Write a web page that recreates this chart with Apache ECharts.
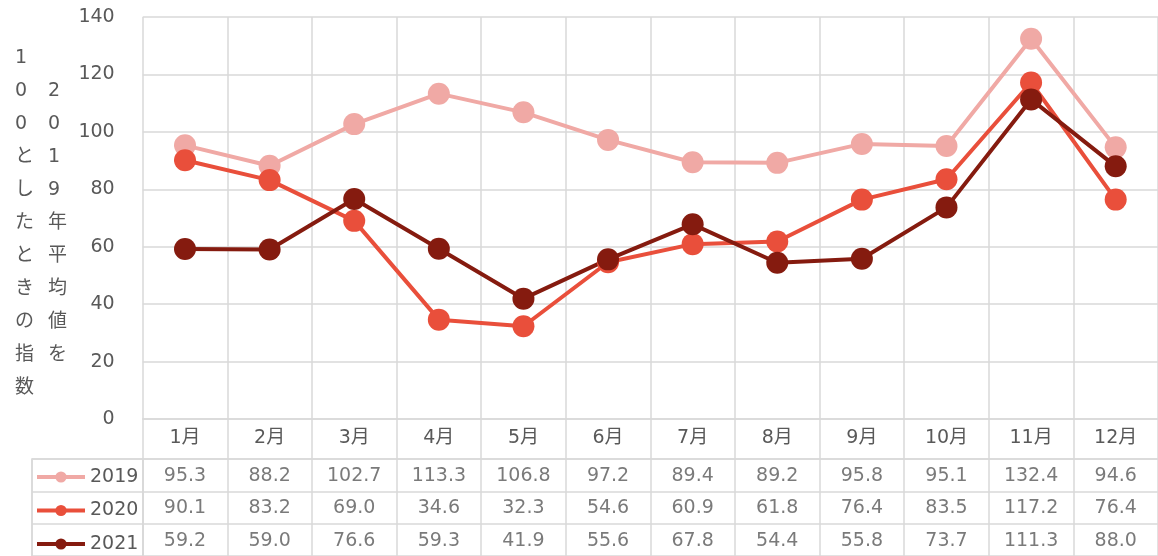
<!DOCTYPE html>
<html>
<head>
    <meta charset="UTF-8">
    <title>2019年平均値を100とした指数</title>
    <script src="https://cdn.jsdelivr.net/npm/echarts@6/dist/echarts.min.js"></script>
    <style>
        html, body { margin: 0; padding: 0; background: #fff; }
    </style>
</head>
<body>
<div id="chart" style="width: 1158px;height:556px;"></div>
</body>
<script type="text/javascript">
    var months = ['1月', '2月', '3月', '4月', '5月', '6月', '7月', '8月', '9月', '10月', '11月', '12月'];
    var years = ['2019', '2020', '2021'];
    var v2019 = [95.3, 88.2, 102.7, 113.3, 106.8, 97.2, 89.4, 89.2, 95.8, 95.1, 132.4, 94.6];
    var v2020 = [90.1, 83.2, 69.0, 34.6, 32.3, 54.6, 60.9, 61.8, 76.4, 83.5, 117.2, 76.4];
    var v2021 = [59.2, 59.0, 76.6, 59.3, 41.9, 55.6, 67.8, 54.4, 55.8, 73.7, 111.3, 88.0];
    var colors = ['#F0A9A5', '#E94F3B', '#851B0F'];
    var yMin = 0, yMax = 140, yStep = 20;

    var font = 'DejaVu Sans, Noto Sans CJK JP, sans-serif';
    var textColor = '#595959';
    var gridColor = '#d9d9d9';

    // 表のセル (月, 年, 値)
    var values = [v2019, v2020, v2021];
    var tableData = [];
    for (let j = 0; j < years.length; j++) {
        for (let i = 0; i < months.length; i++) {
            tableData.push([i, j, values[j][i]]);
        }
    }

    var lineSeries = [];
    var legends = [];
    for (let j = 0; j < years.length; j++) {
        lineSeries.push({
            name: years[j],
            type: 'line',
            xAxisIndex: 0,
            yAxisIndex: 0,
            data: values[j],
            symbol: 'circle',
            symbolSize: 22,
            color: colors[j],
            itemStyle: {color: colors[j]},
            lineStyle: {width: 4, color: colors[j]}
        });
        // 表の左の列に凡例を1行ずつ置く
        legends.push({
            left: 35,
            top: 467 + j * 33.5,
            itemWidth: 48,
            itemHeight: 14,
            itemGap: 0,
            padding: 0,
            selectedMode: false,
            data: [years[j]],
            lineStyle: {width: 4},
            textStyle: {fontSize: 19, color: textColor, lineHeight: 20, fontFamily: font}
        });
    }

    var option = {
        animation: false,
        textStyle: {fontFamily: font},
        legend: legends,
        graphic: [
            {
                type: 'text', left: 15, top: 42,
                style: {
                    text: '1\n0\n0\nと\nし\nた\nと\nき\nの\n指\n数',
                    font: '19px ' + font, fill: textColor, lineHeight: 33, align: 'center'
                }
            },
            {
                type: 'text', left: 48, top: 75,
                style: {
                    text: '2\n0\n1\n9\n年\n平\n均\n値\nを',
                    font: '19px ' + font, fill: textColor, lineHeight: 33, align: 'center'
                }
            }
        ],
        grid: [
            {left: 142.7, top: 17, width: 1018, height: 402},
            {left: 142.7, top: 459, width: 1018, height: 100.5},
            {left: 32, top: 459, width: 110.7, height: 100.5}
        ],
        xAxis: [
            {
                type: 'category',
                gridIndex: 0,
                data: months,
                axisLine: {show: true, lineStyle: {color: gridColor, width: 1.5}},
                axisTick: {show: true, interval: 0, length: 40, lineStyle: {color: gridColor, width: 1.5}},
                axisLabel: {interval: 0, margin: 10, fontSize: 19, color: textColor, fontFamily: font},
                splitLine: {show: true, interval: 0, lineStyle: {color: gridColor, width: 1.5}}
            },
            {
                type: 'category',
                gridIndex: 1,
                data: months,
                position: 'top',
                axisLine: {show: true, lineStyle: {color: gridColor, width: 1.5}},
                axisTick: {show: false},
                axisLabel: {show: false},
                splitLine: {show: true, interval: 0, lineStyle: {color: gridColor, width: 1.5}}
            },
            {
                type: 'category',
                gridIndex: 2,
                data: [''],
                position: 'top',
                axisLine: {show: true, lineStyle: {color: gridColor, width: 1.5}},
                axisTick: {show: false},
                axisLabel: {show: false},
                splitLine: {show: true, interval: 0, lineStyle: {color: gridColor, width: 1.5}}
            }
        ],
        yAxis: [
            {
                type: 'value',
                gridIndex: 0,
                min: yMin,
                max: yMax,
                interval: yStep,
                axisLine: {show: false},
                axisTick: {show: false},
                axisLabel: {margin: 28, fontSize: 19, color: textColor, fontFamily: font},
                splitLine: {show: true, lineStyle: {color: gridColor, width: 1.5}}
            },
            {
                type: 'category',
                gridIndex: 1,
                data: years,
                inverse: true,
                axisLine: {show: true, lineStyle: {color: gridColor, width: 1.5}},
                axisTick: {show: false},
                axisLabel: {show: false},
                splitLine: {show: true, interval: 0, lineStyle: {color: gridColor, width: 1.5}}
            },
            {
                type: 'category',
                gridIndex: 2,
                data: years,
                inverse: true,
                axisLine: {show: true, lineStyle: {color: gridColor, width: 1.5}},
                axisTick: {show: false},
                axisLabel: {show: false},
                splitLine: {show: true, interval: 0, lineStyle: {color: gridColor, width: 1.5}}
            }
        ],
        series: lineSeries.concat([
            {
                name: 'table',
                type: 'scatter',
                xAxisIndex: 1,
                yAxisIndex: 1,
                silent: true,
                symbolSize: 1,
                itemStyle: {color: 'rgba(0,0,0,0)'},
                label: {
                    show: true,
                    position: 'inside',
                    offset: [0, 1],
                    fontSize: 19,
                    color: textColor,
                    fontFamily: font,
                    formatter: function (p) {
                        return p.value[2].toFixed(1);
                    }
                },
                data: tableData
            }
        ])
    };

    var myChart = echarts.init(document.getElementById('chart'));
    myChart.setOption(option);
</script>
</html>
